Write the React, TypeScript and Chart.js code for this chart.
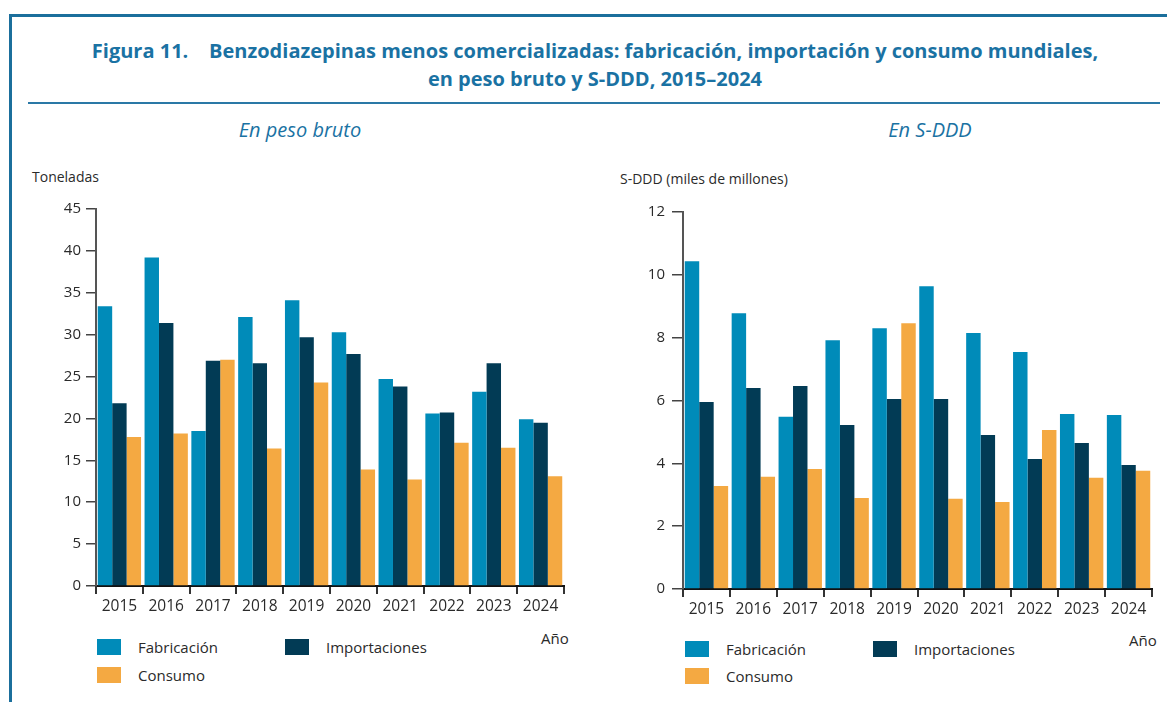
import React, { useEffect, useRef } from "react";
import { Chart, registerables } from "chart.js";

Chart.register(...registerables);

const years = ["2015", "2016", "2017", "2018", "2019", "2020", "2021", "2022", "2023", "2024"];
const seriesNames = ["Fabricación", "Importaciones", "Consumo"];

const pesoFabricacion = [33.4, 39.2, 18.5, 32.1, 34.1, 30.3, 24.7, 20.6, 23.2, 19.9];
const pesoImportaciones = [21.8, 31.4, 26.9, 26.6, 29.7, 27.7, 23.8, 20.7, 26.6, 19.5];
const pesoConsumo = [17.8, 18.2, 27.0, 16.4, 24.3, 13.9, 12.7, 17.1, 16.5, 13.1];

const sdddFabricacion = [10.43, 8.78, 5.48, 7.92, 8.3, 9.64, 8.15, 7.54, 5.57, 5.54];
const sdddImportaciones = [5.95, 6.4, 6.46, 5.22, 6.05, 6.05, 4.9, 4.14, 4.65, 3.95];
const sdddConsumo = [3.28, 3.57, 3.82, 2.9, 8.46, 2.87, 2.77, 5.06, 3.54, 3.76];

const pesoTicks = [0, 5, 10, 15, 20, 25, 30, 35, 40, 45];
const sdddTicks = [0, 2, 4, 6, 8, 10, 12];

const COLORS = ["#008bb9", "#023b55", "#f4a942"];
const BLUE = "#1a72a3";
const FONT = "'Open Sans', 'Noto Sans', sans-serif";
const TEXT = "#2a2a2a";

type BarProps = {
  values: number[][];
  ticks: number[];
  yWidth: number;
  yTickLen: number;
  yPad: number;
  padTop: number;
  width: number;
  height: number;
  left: number;
  top: number;
};

function BarChart(p: BarProps) {
  const ref = useRef<HTMLCanvasElement>(null);
  useEffect(() => {
    if (!ref.current) return;
    const max = p.ticks[p.ticks.length - 1];
    const step = p.ticks[1] - p.ticks[0];
    const chart = new Chart(ref.current, {
      type: "bar",
      data: {
        labels: years,
        datasets: p.values.map((v, i) => ({
          label: seriesNames[i],
          data: v,
          backgroundColor: COLORS[i],
          borderWidth: 0,
          categoryPercentage: 0.925,
          barPercentage: 1.0,
        })),
      },
      options: {
        responsive: false,
        animation: false,
        devicePixelRatio: 1,
        layout: { padding: { top: p.padTop, right: 4, left: 0, bottom: 0 } },
        plugins: { legend: { display: false }, tooltip: { enabled: false } },
        scales: {
          x: {
            grid: {
              display: true,
              drawOnChartArea: false,
              drawTicks: true,
              tickLength: 8,
              color: "#333",
              lineWidth: 2,
              offset: true,
            },
            border: { color: "#111", width: 2 },
            ticks: { font: { family: FONT, size: 15.5 }, color: TEXT, padding: 3, maxRotation: 0 },
            afterFit: (s: any) => {
              s.height = 30;
            },
          },
          y: {
            min: 0,
            max: max,
            ticks: { stepSize: step, font: { family: FONT, size: 15 }, color: TEXT, padding: p.yPad },
            grid: {
              display: true,
              drawOnChartArea: false,
              drawTicks: true,
              tickLength: p.yTickLen,
              color: "#444",
              lineWidth: 1.5,
            },
            border: { color: "#555", width: 2 },
            afterFit: (s: any) => {
              s.width = p.yWidth;
            },
          },
        },
      },
    });
    return () => chart.destroy();
  }, []);
  return (
    <canvas
      ref={ref}
      width={p.width}
      height={p.height}
      style={{ position: "absolute", left: p.left, top: p.top, width: p.width, height: p.height }}
    />
  );
}

function Legend({ left, top, colGap, rowGap }: { left: number; top: number; colGap: number; rowGap: number }) {
  const item = (i: number, x: number, y: number) => (
    <div key={i}>
      <div
        style={{
          position: "absolute",
          left: x,
          top: y,
          width: 24,
          height: 16,
          background: COLORS[i],
        }}
      />
      <div
        style={{
          position: "absolute",
          left: x + 41,
          top: y - 3,
          fontFamily: FONT,
          fontSize: 15,
          color: TEXT,
          lineHeight: "22px",
          whiteSpace: "nowrap",
        }}
      >
        {seriesNames[i]}
      </div>
    </div>
  );
  return (
    <>
      {item(0, left, top)}
      {item(1, left + colGap, top)}
      {item(2, left, top + rowGap)}
    </>
  );
}

const abs = (l: number, t: number, extra: React.CSSProperties = {}): React.CSSProperties => ({
  position: "absolute",
  left: l,
  top: t,
  whiteSpace: "nowrap",
  ...extra,
});

export default function App() {
  return (
    <div style={{ position: "fixed", left: 0, top: 0, width: 1167, height: 702, background: "#fff", overflow: "hidden" }}>
      <div style={{ position: "absolute", left: 9, top: 14, right: 0, height: 3, background: "#1b6f9c" }} />
      <div style={{ position: "absolute", left: 9, top: 14, width: 3, bottom: 0, background: "#1b6f9c" }} />
      <div
        style={{
          position: "absolute",
          left: 0,
          width: 1190,
          top: 37,
          textAlign: "center",
          fontFamily: FONT,
          fontWeight: 700,
          fontSize: 20,
          lineHeight: "28px",
          color: BLUE,
        }}
      >
        <div>Figura 11.&nbsp;&nbsp;&nbsp;&nbsp;Benzodiazepinas menos comercializadas: fabricación, importación y consumo mundiales,</div>
        <div>en peso bruto y S-DDD, 2015–2024</div>
      </div>
      <div style={{ position: "absolute", left: 28, width: 1132, top: 102, height: 2, background: "#2a78a6" }} />

      <div style={abs(0, 116, { width: 600, textAlign: "center", fontFamily: FONT, fontStyle: "italic", fontSize: 20, color: BLUE })}>
        En peso bruto
      </div>
      <div style={abs(630, 116, { width: 600, textAlign: "center", fontFamily: FONT, fontStyle: "italic", fontSize: 20, color: BLUE })}>
        En S-DDD
      </div>

      <div style={abs(32, 167, { fontFamily: FONT, fontSize: 14, color: TEXT })}>Toneladas</div>
      <div style={abs(620, 169, { fontFamily: FONT, fontSize: 14, color: TEXT })}>S-DDD (miles de millones)</div>

      <BarChart
        values={[pesoFabricacion, pesoImportaciones, pesoConsumo]}
        ticks={pesoTicks}
        yWidth={76}
        yTickLen={10}
        yPad={5}
        padTop={13}
        width={548}
        height={421}
        left={20}
        top={195}
      />
      <BarChart
        values={[sdddFabricacion, sdddImportaciones, sdddConsumo]}
        ticks={sdddTicks}
        yWidth={83}
        yTickLen={11}
        yPad={7}
        padTop={11}
        width={556}
        height={423}
        left={600}
        top={196}
      />

      <div style={abs(541, 628, { fontFamily: FONT, fontSize: 15, color: TEXT })}>Año</div>
      <div style={abs(1129, 630, { fontFamily: FONT, fontSize: 15, color: TEXT })}>Año</div>

      <Legend left={97} top={639} colGap={188} rowGap={28} />
      <Legend left={685} top={641} colGap={188} rowGap={27} />
    </div>
  );
}
